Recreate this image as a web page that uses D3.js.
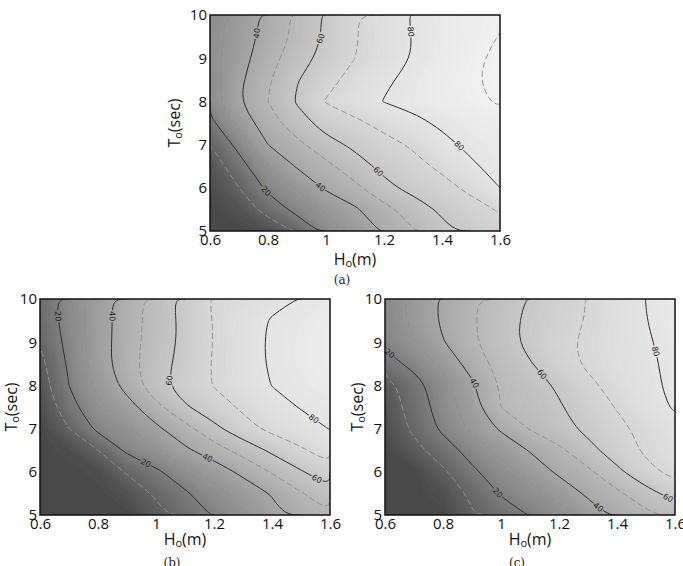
<!DOCTYPE html>
<html>
<head>
<meta charset="utf-8">
<script src="https://cdn.jsdelivr.net/npm/d3@7"></script>
<style>
  body { margin: 0; background: #fff; }
  svg { display: block; }
  .tick text { font-family: "Open Sans", sans-serif; font-size: 15px; fill: #111; }
  .title { font-family: "Open Sans", sans-serif; font-size: 16px; fill: #111; }
  .caption { font-family: "DejaVu Serif", serif; font-size: 12px; fill: #222; }
  .clabel { font-family: "DejaVu Sans", sans-serif; font-size: 8px; fill: #222; }
</style>
</head>
<body>
<svg id="chart" width="683" height="566"></svg>
<script>
// grid axes: columns are wave heights, rows are periods (top row = 10 s)
var waveHeights = [0.6, 0.7, 0.8, 0.9, 1.0, 1.1, 1.2, 1.3, 1.4, 1.5, 1.6];
var wavePeriods = [10, 9.5, 9, 8.5, 8, 7.5, 7, 6.5, 6, 5.5, 5];
var levels = [10, 20, 30, 40, 50, 60, 70, 80, 90];
var xTicks = [0.6, 0.8, 1, 1.2, 1.4, 1.6];
var yTicks = [5, 6, 7, 8, 9, 10];

var valuesA = [
    25, 33.7, 42.7, 52.3, 61.6, 69.5, 75.7, 80.7, 84, 87, 89,
    26, 34.8, 43.5, 52.4, 61.5, 69.2, 74.9, 80.3, 83.6, 86.9, 90.3,
    26, 36, 46, 55.5, 63.3, 70, 75.3, 80.4, 84.3, 88.2, 92,
    25, 38, 49, 59.5, 67, 73.2, 78.6, 82.5, 85.7, 89, 92.3,
    25, 39.3, 50, 61, 70.6, 75.6, 80.3, 82.9, 85.5, 88.2, 91,
    17, 33, 46, 55.5, 64, 68, 73, 77.5, 81.6, 84, 86,
    10, 23, 40, 47.4, 56.5, 62, 66.7, 71.3, 77.5, 82, 84,
    4, 16, 29, 41, 47.4, 56, 62.5, 67, 72, 78.7, 83,
    2, 10, 22, 31, 41.5, 47.6, 57.4, 62.9, 66.7, 72.4, 80,
    0, 4, 14, 23, 31.5, 38.6, 46.7, 55, 61.7, 66, 71,
    0, 0, 3, 11.4, 24, 33.3, 41.5, 49.2, 57.5, 62.7, 67
];

var valuesB = [
    14, 24.4, 35.3, 45, 54.1, 63.5, 71.1, 74.2, 77.3, 80.5, 83,
    13, 24, 34.9, 45.2, 54.2, 62.5, 70.5, 75.7, 80.8, 83, 85,
    11, 23, 35, 45.7, 54.6, 62.4, 70.3, 76.4, 81.2, 83.5, 85.5,
    7, 21.5, 34.9, 46.2, 55.6, 63.5, 70.8, 76.4, 81, 83.5, 85.5,
    5, 20, 32.4, 43.3, 56.7, 64.4, 70.5, 75.3, 80.2, 82.5, 84.5,
    2, 16.4, 27.9, 36.2, 47.1, 58.9, 65.6, 71.5, 76.7, 80.5, 82,
    0, 10, 22.3, 28.7, 38, 46.7, 57.5, 66.7, 72.4, 76.4, 80.3,
    0, 2, 10, 21.9, 29.3, 38.2, 45.7, 53.6, 62, 68.7, 75,
    0, 0, 2, 11, 18, 26.7, 34.2, 42.5, 50.8, 59.2, 66,
    0, 0, 0, 4, 11.4, 18.6, 26.2, 33.6, 40.8, 49.2, 57,
    0, 0, 0, 0, 7, 14, 21, 28.5, 36.7, 44, 49
];

var valuesC = [
    23.7, 32.8, 41.6, 48.8, 55, 60.8, 65.7, 70.5, 75.3, 80.1, 84,
    23, 32.5, 41.6, 48.8, 56.3, 62.1, 66.3, 70.5, 75.1, 79.8, 84,
    22, 29.5, 39.5, 48.6, 56.1, 62.4, 67.6, 71.9, 75.4, 79, 83,
    16, 22.7, 32.5, 44.2, 53.7, 59.4, 66, 71.4, 74.9, 78.4, 82,
    6, 16, 26, 38.3, 51.2, 56.1, 61.3, 68, 73.2, 77.7, 82,
    4, 14.2, 24.7, 36.2, 50, 54.5, 59.1, 64.7, 70.6, 76.1, 81,
    2, 12, 22.1, 32.3, 41.4, 50.6, 56.5, 62.3, 67.8, 72.5, 77,
    0, 7, 15, 24, 33.1, 40.7, 47.9, 57, 64.9, 71.5, 75,
    0, 0, 8.5, 18.1, 25.7, 33.6, 41.9, 48.1, 57.8, 67.3, 73,
    0, 0, 3, 12.2, 20.8, 26.2, 33, 41.9, 48.1, 56.4, 64,
    0, 0, 0, 9, 15, 20.6, 26.1, 34.1, 42.8, 47.6, 53
];

// contour labels: [level, H, T]
var labelsA = [[40, 0.76, 9.58], [60, 0.98, 9.46], [80, 1.275, 9.6], [20, 0.795, 5.93],
               [40, 0.98, 6.02], [60, 1.175, 6.34], [80, 1.45, 6.91]];
var labelsB = [[20, 0.66, 9.6], [40, 0.845, 9.6], [60, 1.025, 8.14], [20, 0.968, 6.25],
               [40, 1.175, 6.29], [60, 1.554, 5.83], [80, 1.531, 7.1]];
var labelsC = [[20, 0.617, 8.75], [40, 0.91, 8.06], [60, 1.14, 8.25], [80, 1.54, 8.8],
               [20, 0.99, 5.52], [40, 1.33, 5.14], [60, 1.571, 5.33]];

var W = 290, H = 216;
var nx = waveHeights.length, ny = wavePeriods.length;

var panels = [
    { name: '(a)', values: valuesA, labels: labelsA, left: 210, top: 15, titleGap: 36, titleY: 34, capY: 53 },
    { name: '(b)', values: valuesB, labels: labelsB, left: 40, top: 299, titleGap: 29, titleY: 30, capY: 52 },
    { name: '(c)', values: valuesC, labels: labelsC, left: 385, top: 299, titleGap: 28, titleY: 30, capY: 52 }
];

var shade = d3.scaleLinear()
    .domain([0, 25, 50, 75, 92])
    .range(['#484848', '#8c8c8c', '#b8b8b8', '#dedede', '#f3f3f3'])
    .clamp(true);

var svg = d3.select('#chart');

panels.forEach(function (p, pi) {
    drawPanel(p, pi);
});

function drawPanel(p, pi) {
    var x = d3.scaleLinear().domain([0.6, 1.6]).range([0, W]);
    var y = d3.scaleLinear().domain([5, 10]).range([H, 0]);
    // contour grid coordinates -> data values
    var hAt = d3.scaleLinear().domain([0.5, nx - 0.5]).range([waveHeights[0], waveHeights[nx - 1]]);
    var tAt = d3.scaleLinear().domain([0.5, ny - 0.5]).range([wavePeriods[0], wavePeriods[ny - 1]]);

    var g = svg.append('g').attr('transform', 'translate(' + p.left + ',' + p.top + ')');

    var clipId = 'clip' + pi;
    var maskId = 'mask' + pi;
    var defs = g.append('defs');
    defs.append('clipPath').attr('id', clipId)
        .append('rect').attr('width', W).attr('height', H);

    var projection = d3.geoTransform({
        point: function (cx, cy) {
            this.stream.point(x(hAt(cx)), y(tAt(cy)));
        }
    });
    var geoPath = d3.geoPath(projection);

    // shaded background from many thin bands
    var bands = d3.contours().size([nx, ny]).thresholds(d3.range(0, 95, 1))(p.values);
    g.append('g')
        .attr('clip-path', 'url(#' + clipId + ')')
        .selectAll('path')
        .data(bands)
        .join('path')
        .attr('d', geoPath)
        .attr('fill', function (d) { return shade(d.value + 0.5); });

    // contour lines
    var line = d3.line()
        .x(function (d) { return x(hAt(d[0])); })
        .y(function (d) { return y(tAt(d[1])); })
        .curve(d3.curveBasis);

    var lineData = levels.map(function (lv) {
        return { level: lv, runs: isolines(p.values, lv) };
    });

    // labels: snap to the nearest point on the contour
    var placed = p.labels.map(function (lb) {
        var ax = x(lb[1]), ay = y(lb[2]);
        var runs = lineData.find(function (d) { return d.level === lb[0]; }).runs;
        var best = { dist: Infinity, px: ax, py: ay, angle: 0 };
        runs.forEach(function (run) {
            var pts = run.map(function (q) { return [x(hAt(q[0])), y(tAt(q[1]))]; });
            for (var i = 0; i < pts.length - 1; i++) {
                var a = pts[i], b = pts[i + 1];
                var dx = b[0] - a[0], dy = b[1] - a[1];
                var len2 = dx * dx + dy * dy || 1;
                var t = Math.max(0, Math.min(1, ((ax - a[0]) * dx + (ay - a[1]) * dy) / len2));
                var qx = a[0] + t * dx, qy = a[1] + t * dy;
                var dist = Math.hypot(qx - ax, qy - ay);
                if (dist < best.dist) {
                    var ang = Math.atan2(dy, dx) * 180 / Math.PI;
                    if (ang > 90) ang -= 180;
                    if (ang < -90) ang += 180;
                    best = { dist: dist, px: qx, py: qy, angle: ang };
                }
            }
        });
        return { text: String(lb[0]), x: best.px, y: best.py, angle: best.angle };
    });

    var mask = defs.append('mask').attr('id', maskId)
        .attr('maskUnits', 'userSpaceOnUse')
        .attr('x', -5).attr('y', -5).attr('width', W + 10).attr('height', H + 10);
    mask.append('rect').attr('x', -5).attr('y', -5).attr('width', W + 10).attr('height', H + 10).attr('fill', '#fff');
    mask.selectAll('rect.gap')
        .data(placed)
        .join('rect')
        .attr('class', 'gap')
        .attr('x', -6).attr('y', -4).attr('width', 12).attr('height', 8)
        .attr('fill', '#000')
        .attr('transform', function (d) { return 'translate(' + d.x + ',' + d.y + ') rotate(' + d.angle + ')'; });

    var lines = g.append('g')
        .attr('clip-path', 'url(#' + clipId + ')')
        .append('g')
        .attr('mask', 'url(#' + maskId + ')');

    lineData.forEach(function (d) {
        var solid = d.level % 20 === 0;
        lines.selectAll(null)
            .data(d.runs)
            .join('path')
            .attr('d', line)
            .attr('fill', 'none')
            .attr('stroke', solid ? '#2e2e2e' : '#8f8f8f')
            .attr('stroke-width', 1)
            .attr('stroke-dasharray', solid ? null : '6,3');
    });

    g.append('g')
        .selectAll('text')
        .data(placed)
        .join('text')
        .attr('class', 'clabel')
        .attr('text-anchor', 'middle')
        .attr('dy', '0.35em')
        .attr('transform', function (d) { return 'translate(' + d.x + ',' + d.y + ') rotate(' + d.angle + ')'; })
        .text(function (d) { return d.text; });

    // frame
    g.append('rect')
        .attr('width', W).attr('height', H)
        .attr('fill', 'none')
        .attr('stroke', '#111')
        .attr('stroke-width', 1.5);

    // axes
    var fmt = d3.format('~g');
    var xAxis = g.append('g')
        .attr('transform', 'translate(0,' + H + ')')
        .call(d3.axisBottom(x).tickValues(xTicks).tickSize(0).tickPadding(3).tickFormat(fmt));
    xAxis.select('.domain').remove();

    var yAxis = g.append('g')
        .call(d3.axisLeft(y).tickValues(yTicks).tickSize(0).tickPadding(3).tickFormat(fmt));
    yAxis.select('.domain').remove();

    // axis titles
    var xt = g.append('text')
        .attr('class', 'title')
        .attr('x', W / 2).attr('y', H + p.titleY)
        .attr('text-anchor', 'middle');
    xt.append('tspan').text('H');
    xt.append('tspan').attr('font-size', '11px').attr('dy', 2).text('o');
    xt.append('tspan').attr('dy', -2).text('(m)');

    var yt = g.append('text')
        .attr('class', 'title')
        .attr('transform', 'translate(' + (-p.titleGap) + ',' + (H / 2) + ') rotate(-90)')
        .attr('text-anchor', 'middle')
        .attr('dy', '0.35em');
    yt.append('tspan').text('T');
    yt.append('tspan').attr('font-size', '11px').attr('dy', 2).text('o');
    yt.append('tspan').attr('dy', -2).text('(sec)');

    g.append('text')
        .attr('class', 'caption')
        .attr('x', W / 2 - 13).attr('y', H + p.capY)
        .attr('text-anchor', 'middle')
        .text(p.name);
}

// open isolines of one level, in grid coordinates, with the plot-edge parts removed
function isolines(values, level) {
    var geo = d3.contours().size([nx, ny]).thresholds([level])(values)[0];
    var runs = [];

    function clampPt(q) {
        return [Math.max(0.5, Math.min(nx - 0.5, q[0])), Math.max(0.5, Math.min(ny - 0.5, q[1]))];
    }

    geo.coordinates.forEach(function (polygon) {
        polygon.forEach(function (ring) {
            var pts = ring.slice(0, -1);
            var n = pts.length;
            var onEdge = pts.map(function (q) {
                return q[0] <= 0 || q[0] >= nx || q[1] <= 0 || q[1] >= ny;
            });
            var start = onEdge.indexOf(true);
            if (start < 0) {
                runs.push(pts.concat([pts[0]]).map(clampPt));
                return;
            }
            var current = null;
            for (var k = 0; k <= n; k++) {
                var i = (start + k) % n;
                if (onEdge[i]) {
                    if (current) {
                        current.push(clampPt(pts[i]));
                        runs.push(current);
                        current = null;
                    }
                } else {
                    if (!current) current = [clampPt(pts[(i - 1 + n) % n])];
                    current.push(clampPt(pts[i]));
                }
            }
        });
    });
    return runs;
}
</script>
</body>
</html>
